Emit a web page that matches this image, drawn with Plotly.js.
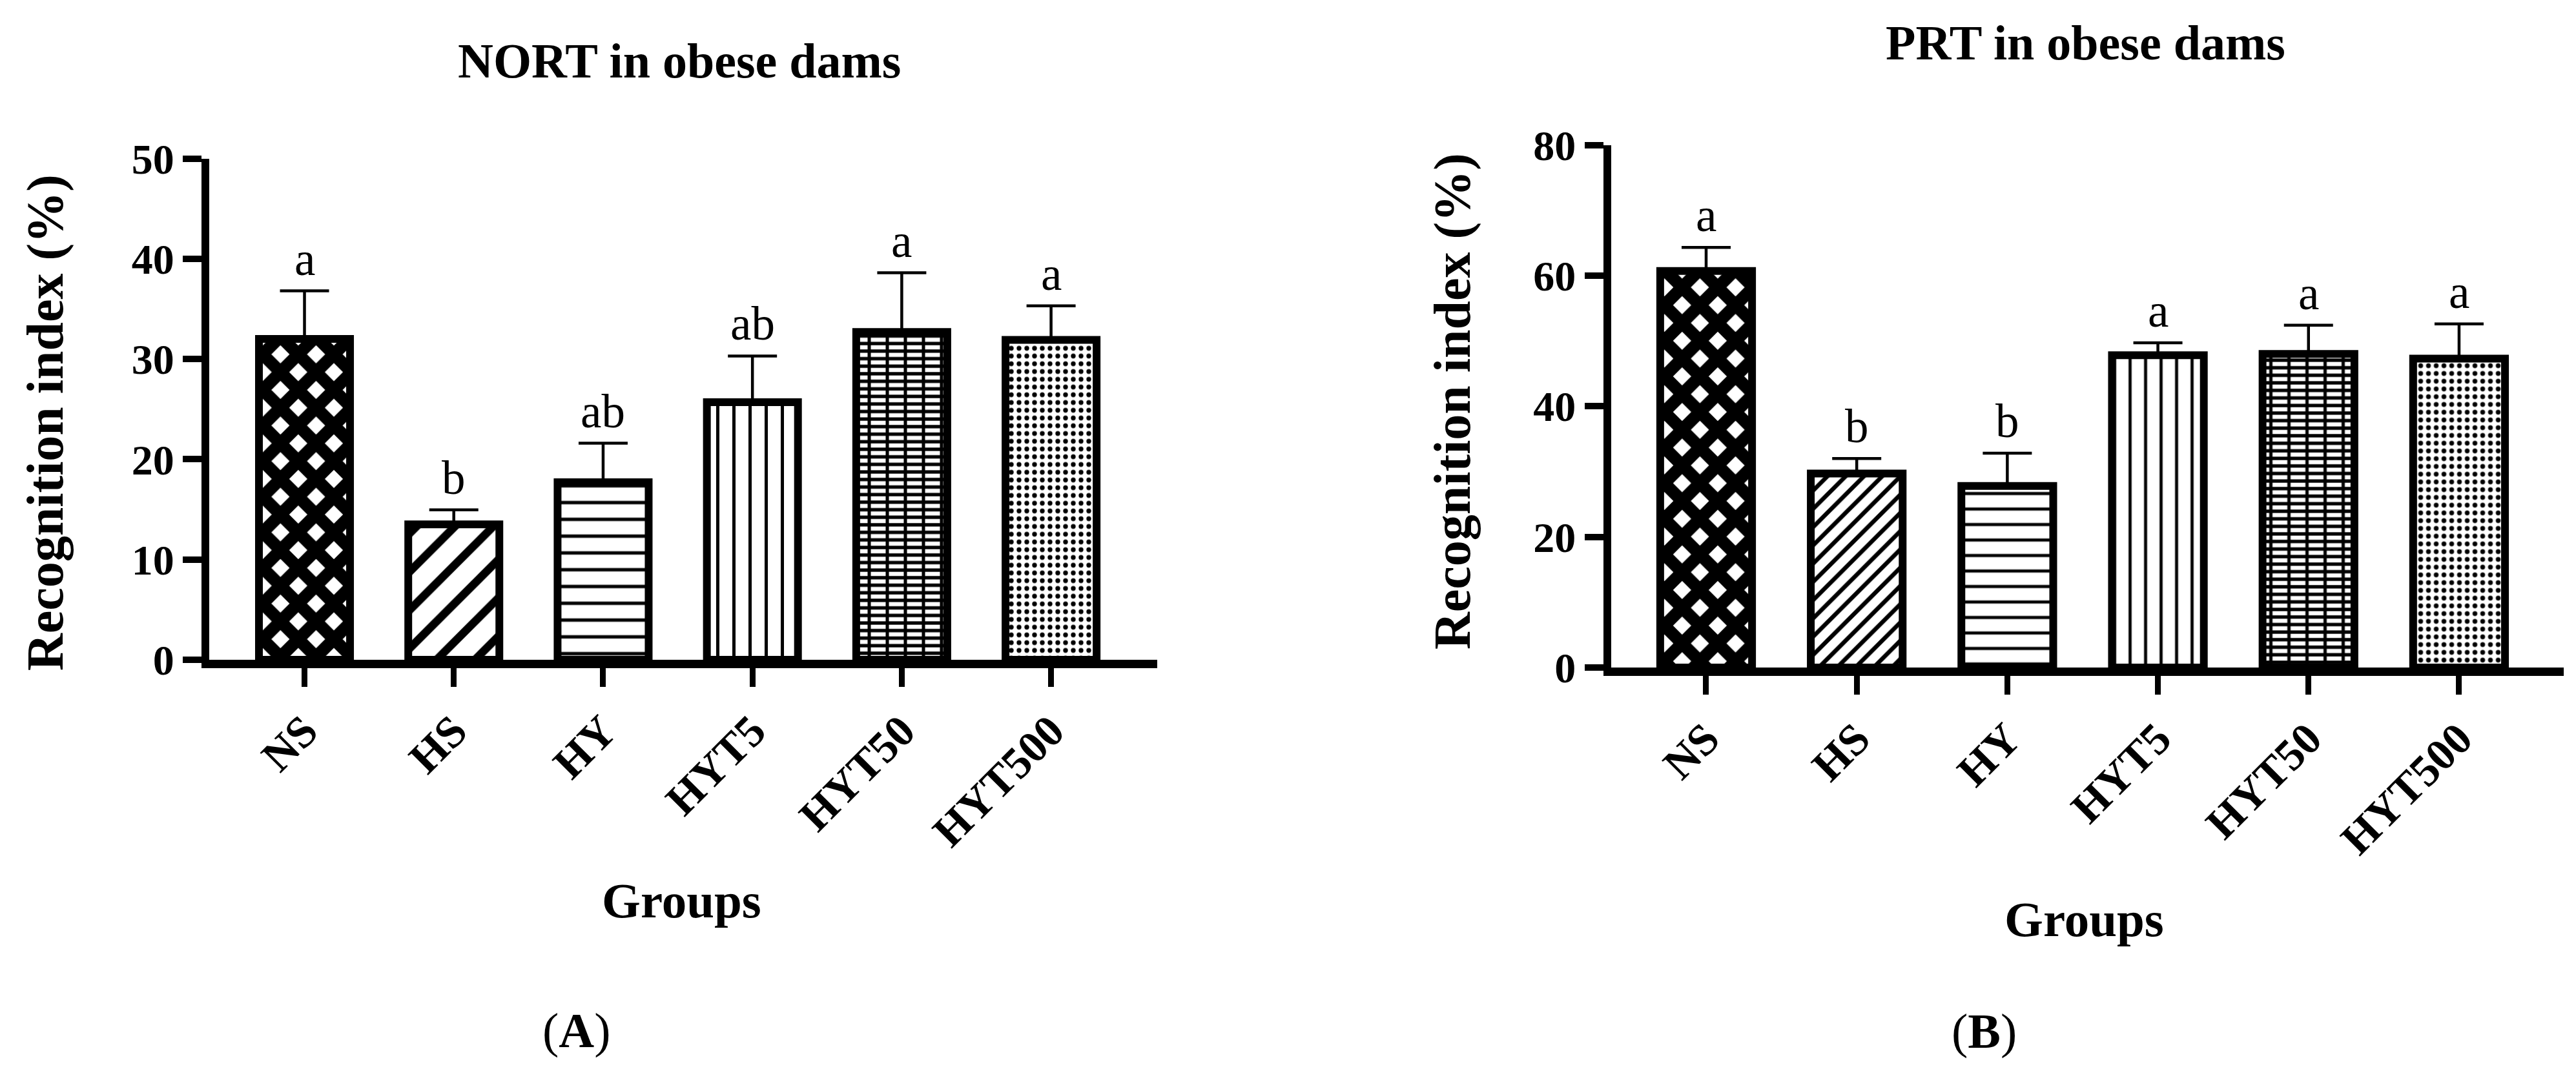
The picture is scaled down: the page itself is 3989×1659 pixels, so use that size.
<!DOCTYPE html>
<html><head><meta charset="utf-8">
<script src="https://cdn.plot.ly/plotly-3.0.1.min.js"></script>
<style>html,body{margin:0;padding:0;background:#fff}#chart{width:3989px;height:1659px}</style>
</head><body><div id="chart"></div>
<script>
// ---- data ----
const groups = ['NS', 'HS', 'HY', 'HYT5', 'HYT50', 'HYT500'];
const nortMean = [32.0, 13.5, 17.7, 25.7, 32.7, 31.9];
const nortSem = [4.8, 1.45, 3.9, 4.6, 5.9, 3.4];
const nortLetters = ['a', 'b', 'ab', 'ab', 'a', 'a'];
const prtMean = [60.7, 29.7, 27.8, 47.8, 48.0, 47.3];
const prtSem = [3.6, 2.3, 5.0, 1.9, 4.4, 5.3];
const prtLetters = ['a', 'b', 'b', 'a', 'a', 'a'];
const nortTicks = [0, 10, 20, 30, 40, 50];
const prtTicks = [0, 20, 40, 60, 80];
const titleA = 'NORT in obese dams';
const titleB = 'PRT in obese dams';
const yTitle = 'Recognition index (%)';
const xTitle = 'Groups';

// ---- styles ----
const W = 3989, H = 1659;
const FONT = 'Liberation Serif, Times New Roman, serif';
const fx = p => p / W;
const fy = p => 1 - p / H;
const shapesA = ['x', '/', '-', '|', '-', '.'];
const sizesA = [39, 42, 26, 25, 11.7, 12];
const solA = [0.74, 0.3, 0.2, 0.2, 0.45, 0.3];
const shapesB = ['x', '/', '-', '|', '-', '.'];
const sizesB = [39, 20, 24, 24, 11.7, 12];
const solB = [0.74, 0.33, 0.2, 0.2, 0.45, 0.3];
const brickOverlay = ['', '', '', '', '|', ''];

function barTrace(mean, sem, shapes, sizes, sol, xa, ya) {
  return {
    type: 'bar', x: groups, y: mean, xaxis: xa, yaxis: ya, width: 0.61,
    marker: {
      color: 'white',
      line: {color: 'black', width: 12},
      pattern: {shape: shapes, size: sizes, solidity: sol, fgcolor: 'black', bgcolor: 'white', fillmode: 'replace'}
    },
    error_y: {type: 'data', symmetric: false, array: sem, arrayminus: sem.map(() => 0),
      color: 'black', thickness: 4.5, width: 38},
    hoverinfo: 'skip', showlegend: false
  };
}
function brickTrace(mean, xa, ya) {
  return {
    type: 'bar', x: groups, y: mean, xaxis: xa, yaxis: ya, width: 0.61,
    marker: {
      color: 'rgba(0,0,0,0)', line: {width: 0},
      pattern: {shape: brickOverlay, size: 28, solidity: 0.18, fgcolor: 'black', bgcolor: 'rgba(0,0,0,0)', fillmode: 'replace'}
    },
    hoverinfo: 'skip', showlegend: false
  };
}

const data = [
  barTrace(nortMean, nortSem, shapesA, sizesA, solA, 'x', 'y'),
  brickTrace(nortMean, 'x', 'y'),
  barTrace(prtMean, prtSem, shapesB, sizesB, solB, 'x2', 'y2'),
  brickTrace(prtMean, 'x2', 'y2')
];

function xAxis(domain, range) {
  return {
    domain: domain, range: range, type: 'category',
    showline: true, linewidth: 13, linecolor: 'black',
    ticks: 'outside', ticklen: 29, tickwidth: 9, tickcolor: 'black',
    tickangle: -45, showgrid: false, zeroline: false, fixedrange: true,
    tickfont: {family: FONT, size: 69, color: 'black', weight: 'bold'}
  };
}
function yAxis(domain, range, ticks) {
  return {
    domain: domain, range: range, tickvals: ticks, ticktext: ticks.map(String),
    showline: true, linewidth: 12, linecolor: 'black',
    ticks: 'outside', ticklen: 29, tickwidth: 10, tickcolor: 'black',
    showgrid: false, zeroline: false, fixedrange: true,
    tickfont: {family: FONT, size: 66, color: 'black', weight: 'bold'}
  };
}

const xa = xAxis([fx(324), fx(1792)], [-0.638, 5.711]); xa.anchor = 'y';
const xb = xAxis([fx(2494.5), fx(3970)], [-0.6325, 5.695]); xb.anchor = 'y2';
const ya = yAxis([fy(1022), fy(245.5)], [0, 50], nortTicks); ya.anchor = 'x';
const yb = yAxis([fy(1034), fy(224.5)], [0, 80], prtTicks); yb.anchor = 'x2';

function textAnn(text, x, y, size, bold, angle) {
  return {text: text, xref: 'paper', yref: 'paper', x: fx(x), y: fy(y),
    xanchor: 'center', yanchor: 'middle', showarrow: false, textangle: angle || 0,
    font: {family: FONT, size: size, color: 'black', weight: bold ? 'bold' : 'normal'}};
}
const annotations = [
  textAnn(titleA, 1052, 94, 76, true),
  textAnn(titleB, 3229, 66, 76, true),
  textAnn(yTitle, 70, 655, 80, true, -90),
  textAnn(yTitle, 2249, 622, 80, true, -90),
  textAnn(xTitle, 1055, 1395, 77, true),
  textAnn(xTitle, 3227, 1424, 77, true),
  textAnn('(<b>A</b>)', 893, 1596, 76, false),
  textAnn('(<b>B</b>)', 3072, 1597, 76, false)
];
groups.forEach((g, i) => {
  annotations.push({text: nortLetters[i], x: g, y: nortMean[i] + nortSem[i], xref: 'x', yref: 'y',
    xanchor: 'center', yanchor: 'bottom', yshift: 7, showarrow: false,
    font: {family: FONT, size: 73, color: 'black'}});
  annotations.push({text: prtLetters[i], x: g, y: prtMean[i] + prtSem[i], xref: 'x2', yref: 'y2',
    xanchor: 'center', yanchor: 'bottom', yshift: 7, showarrow: false,
    font: {family: FONT, size: 73, color: 'black'}});
});

const layout = {
  width: W, height: H, margin: {l: 0, r: 0, t: 0, b: 0},
  paper_bgcolor: 'white', plot_bgcolor: 'white',
  barmode: 'overlay', showlegend: false,
  xaxis: xa, yaxis: ya, xaxis2: xb, yaxis2: yb,
  annotations: annotations
};
Plotly.newPlot('chart', data, layout, {staticPlot: true, displayModeBar: false});
</script></body></html>
